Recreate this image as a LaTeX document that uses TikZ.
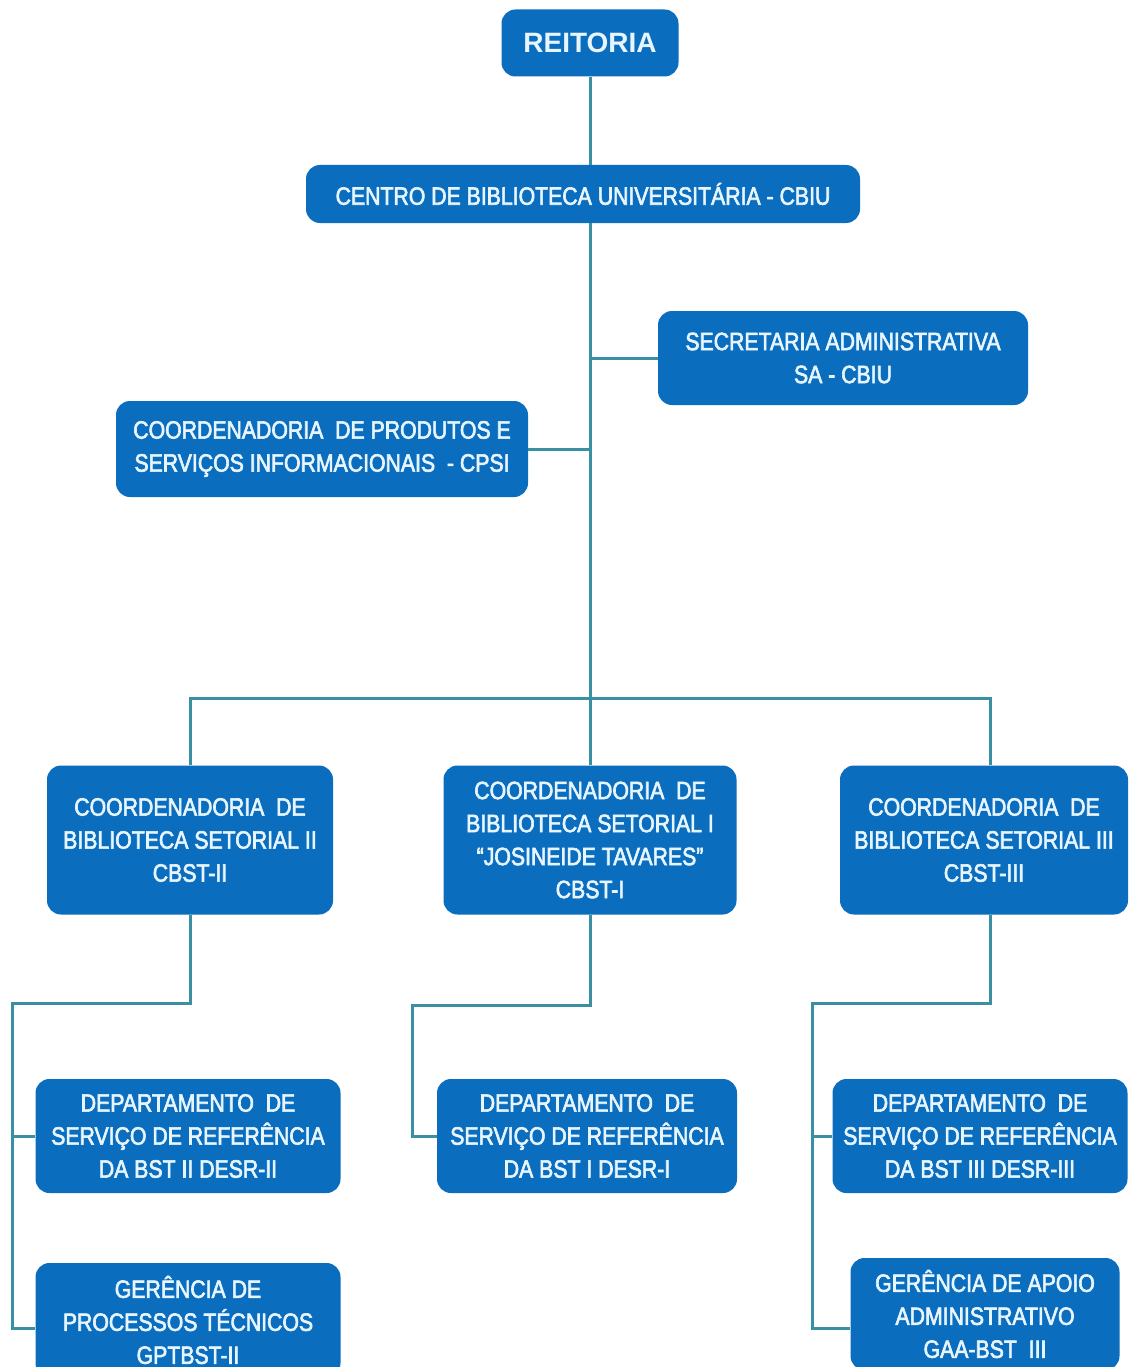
\documentclass[tikz,border=0pt]{standalone}
\usepackage{fontspec}
\newfontfamily\orgfont{Liberation Sans}[FakeStretch=0.85,FakeBold=2.5]
\newfontfamily\headfont{Liberation Sans Bold}
\definecolor{orgblue}{HTML}{0B6DBE}
\definecolor{orgline}{HTML}{3A8FA3}
\definecolor{orgtext}{HTML}{E6F5FF}
\begin{document}
\begin{tikzpicture}[x=1pt,y=-1pt,
  unit/.style={fill=orgblue,rounded corners=14pt,text=orgtext,align=center,inner sep=0pt,
    font=\orgfont\fontsize{25}{33}\selectfont},
  link/.style={draw=orgline,line width=3pt}]
  \useasboundingbox (0,0) rectangle (1130,1367);
  \fill[white] (0,0) rectangle (1130,1367);
  % top of the chart
  \node[unit,minimum width=177pt,minimum height=67pt,font=\headfont\fontsize{28}{33}\selectfont] (reit) at (590,43) {REITORIA};
  \node[unit,minimum width=554pt,minimum height=58pt] (cbiu) at (583,194) {CENTRO DE BIBLIOTECA UNIVERSITÁRIA - CBIU};
  \node[unit,minimum width=370pt,minimum height=94pt] (sa) at (843,358) {SECRETARIA ADMINISTRATIVA\\SA - CBIU};
  \node[unit,minimum width=412pt,minimum height=96pt] (cpsi) at (322,449) {COORDENADORIA \ DE PRODUTOS E\\SERVIÇOS INFORMACIONAIS \ - CPSI};
  % coordinadorias setoriais
  \node[unit,minimum width=286pt,minimum height=149pt] (cbst2) at (190,840) {COORDENADORIA \ DE\\BIBLIOTECA SETORIAL II\\CBST-II};
  \node[unit,minimum width=293pt,minimum height=149pt] (cbst1) at (590,840) {COORDENADORIA \ DE\\BIBLIOTECA SETORIAL I\\“JOSINEIDE TAVARES”\\CBST-I};
  \node[unit,minimum width=288pt,minimum height=149pt] (cbst3) at (984,840) {COORDENADORIA \ DE\\BIBLIOTECA SETORIAL III\\CBST-III};
  % departamentos e gerencias
  \node[unit,minimum width=305pt,minimum height=114pt] (desr2) at (188,1136) {DEPARTAMENTO \ DE\\SERVIÇO DE REFERÊNCIA\\DA BST II DESR-II};
  \node[unit,minimum width=300pt,minimum height=114pt] (desr1) at (587,1136) {DEPARTAMENTO \ DE\\SERVIÇO DE REFERÊNCIA\\DA BST I DESR-I};
  \node[unit,minimum width=295pt,minimum height=114pt] (desr3) at (980,1136) {DEPARTAMENTO \ DE\\SERVIÇO DE REFERÊNCIA\\DA BST III DESR-III};
  \node[unit,minimum width=305pt,minimum height=114pt] (gpt) at (188,1320) {GERÊNCIA DE\\PROCESSOS TÉCNICOS\\GPTBST-II};
  \node[unit,minimum width=269pt,minimum height=112pt] (gaa) at (985,1314) {GERÊNCIA DE APOIO\\ADMINISTRATIVO\\GAA-BST \ III};
  % connectors
  \coordinate (bar) at (590,698);
  \coordinate (k2) at (12,1003);
  \coordinate (k1) at (412,1005);
  \coordinate (k3) at (812,1003);
  \draw[link] (reit.south) -- (reit.south |- cbiu.north);
  \draw[link] (reit.south |- cbiu.south) -- (bar);
  \draw[link] (sa.west) -- (sa.west -| bar);
  \draw[link] (cpsi.east) -- (cpsi.east -| bar);
  \draw[link] (cbst2.north) |- (bar) -| ([xshift=6pt]cbst3.north);
  \draw[link] (bar) -- (cbst1.north);
  \draw[link] (cbst2.south) |- (k2) |- ([yshift=-8pt]gpt.west);
  \draw[link] (desr2.west) -- (desr2.west -| k2);
  \draw[link] (cbst1.south) |- (k1) |- (desr1.west);
  \draw[link] ([xshift=6pt]cbst3.south) |- (k3) |- ([yshift=-14pt]gaa.west);
  \draw[link] (desr3.west) -- (desr3.west -| k3);
\end{tikzpicture}
\end{document}
